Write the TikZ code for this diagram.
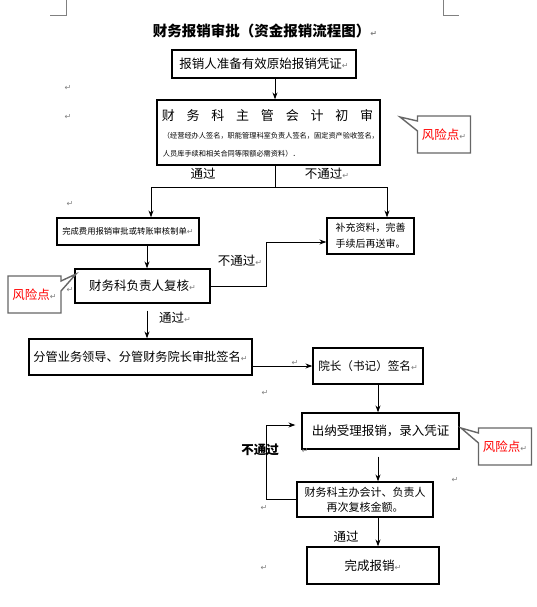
\documentclass[tikz,border=0pt]{standalone}
\usepackage{fontspec}
\setmainfont{Noto Sans CJK SC}
\newfontfamily\dejavu{DejaVu Sans}
\usetikzlibrary{calc, arrows.meta, shapes.callouts}
\newcommand{\rmk}{{\dejavu\color{gray}\fontsize{8}{8}\selectfont ↵}}
\newcommand{\wgap}{\hspace{11.8pt}}

\begin{document}
\begin{tikzpicture}[x=1pt, y=-1pt, line width=1pt]
      % Styles
      \tikzset{stepbox/.style={draw, line width=1.2pt, inner sep=0pt, align=center, font=\fontsize{12.5}{15}\selectfont}}
      \tikzset{riskcall/.style={rectangle callout, draw=black!60, line width=1.4pt, fill=white, text=red, inner sep=0pt, minimum width=53pt, minimum height=37pt, callout pointer width=10pt, font=\fontsize{12.5}{15}\selectfont}}
      \tikzset{flowlabel/.style={inner sep=0pt, font=\fontsize{12.5}{15}\selectfont}}
      \tikzset{retmark/.style={inner sep=0pt, text=gray, font=\dejavu\fontsize{8}{8}\selectfont}}
      \tikzset{flow/.style={-{Stealth[length=7pt, width=5pt]}, line width=1pt}}

      \useasboundingbox (0,0) rectangle (536,607);

      % --- Page corner marks ---
      \draw[gray, line width=0.8pt] (50,15) -- (66,15) -- (66,0);
      \draw[gray, line width=0.8pt] (443,0) -- (443,15) -- (459,15);

      % Title
      \node[inner sep=0pt, font=\bfseries\fontsize{14.5}{16}\selectfont] (title) at (265,31) {财务报销审批（资金报销流程图）\rmk};

      % --- Steps of the flow ---
      \node[stepbox, minimum width=184pt, minimum height=28pt] (prepare) at (264,64) {报销人准备有效原始报销凭证\rmk};
      \node[stepbox, minimum width=223pt, minimum height=65pt] (firstcheck) at (268.5,132.5) {};
      \node[inner sep=0pt, font=\fontsize{13}{15}\selectfont] (firsttitle) at ($(firstcheck.center)+(-1,-16.5)$) {财\wgap 务\wgap 科\wgap 主\wgap 管\wgap 会\wgap 计\wgap 初\wgap 审};
      \node[anchor=west, inner sep=0pt, font=\fontsize{7.2}{8}\selectfont] (firstnote) at ($(firstcheck.west)+(6,3.5)$) {（经营经办人签名，职能管理科室负责人签名，固定资产验收签名，};
      \node[anchor=west, inner sep=0pt, font=\fontsize{7.2}{8}\selectfont] (firstnotetwo) at ($(firstcheck.west)+(6,21.5)$) {人员库手续和相关合同等限额必需资料）．};

      \node[stepbox, minimum width=142pt, minimum height=27pt, font=\fontsize{8.3}{10}\selectfont] (makebill) at (128,231.5) {完成费用报销审批或转账审核制单\rmk};
      \node[stepbox, minimum width=87pt, minimum height=36pt, font=\fontsize{10}{16}\selectfont] (supplement) at (370.5,236) {补充资料，完善\\手续后再送审。};
      \node[stepbox, minimum width=135pt, minimum height=34pt] (recheck) at (142.5,286) {财务科负责人复核\rmk};
      \node[stepbox, minimum width=223pt, minimum height=36pt, font=\fontsize{12.2}{15}\selectfont] (leaders) at (140.5,357) {分管业务领导、分管财务院长审批签名\rmk};
      \node[stepbox, minimum width=110pt, minimum height=36pt, font=\fontsize{11.6}{15}\selectfont] (dean) at (368,366) {院长（书记）签名\rmk};
      \node[stepbox, minimum width=157pt, minimum height=36pt] (cashier) at (380.5,431) {出纳受理报销，录入凭证};
      \node[stepbox, minimum width=136pt, minimum height=35pt, font=\fontsize{11}{15}\selectfont] (amount) at (365,499.5) {财务科主办会计、负责人\\再次复核金额。};
      \node[stepbox, minimum width=132pt, minimum height=37pt] (done) at (373,565.5) {完成报销\rmk};

      % --- Risk callouts ---
      \coordinate (tipA) at (400,117);
      \node[riskcall, callout absolute pointer={(tipA)}] (riskA) at (444,134.5) {风险点\rmk};
      \coordinate (tipB) at (76,274);
      \node[riskcall, callout absolute pointer={(tipB)}] (riskB) at (34.5,294.5) {风险点\rmk};
      \coordinate (tipC) at (461,428);
      \node[riskcall, callout absolute pointer={(tipC)}] (riskC) at (505,446.5) {风险点\rmk};

      % --- Connectors ---
      \coordinate (split) at (275,187);
      \draw[flow] (prepare.south -| split) -- (firstcheck.north -| split);
      \draw (firstcheck.south -| split) -- (split);
      \draw[flow] (split) -| ($(makebill.north)+(23,0)$);
      \draw[flow] (split) -| ($(supplement.north)+(16.5,0)$);
      \node[flowlabel] (passA) at (203,174) {通过};
      \node[flowlabel] (failA) at (327,174) {不通过\rmk};

      \coordinate (colA) at (147,0);
      \draw[flow] (makebill.south -| colA) -- (recheck.north -| colA);
      \draw[flow] (recheck.east) -- ++(56,0) |- ($(supplement.west)+(0,6)$);
      \node[flowlabel] (failB) at (240,261) {不通过\rmk};
      \draw[flow] ($(recheck.south -| colA)+(0,7)$) -- (leaders.north -| colA);
      \node[flowlabel] (passB) at (175,318) {通过\rmk};

      \draw[flow] (dean.west -| leaders.east) -- (dean.west);
      \node[retmark] (retarrow) at (295,363) {↵};

      \coordinate (colB) at (378,0);
      \draw[flow] (dean.south -| colB) -- (cashier.north -| colB);
      \draw[flow] ($(cashier.south -| colB)+(0,7)$) -- (amount.north -| colB);
      \draw[flow] (amount.west) -- ++(-30,0) |- ($(cashier.west)+(-6,-6)$);
      \node[flowlabel, font=\bfseries\fontsize{12.5}{15}\selectfont] (failC) at (260,450) {不通过};
      \draw[flow] (amount.south -| colB) -- (done.north -| colB);
      \node[flowlabel] (passC) at (346,537) {通过};

      % Paragraph marks
      \foreach \p [count=\i] in {(68,88), (68,117), (70,204), (70,290), (265,393), (305,451), (455,480), (264,508), (264,568)}
        \node[retmark] (ret\i) at \p {↵};

    \end{tikzpicture}
\end{document}
